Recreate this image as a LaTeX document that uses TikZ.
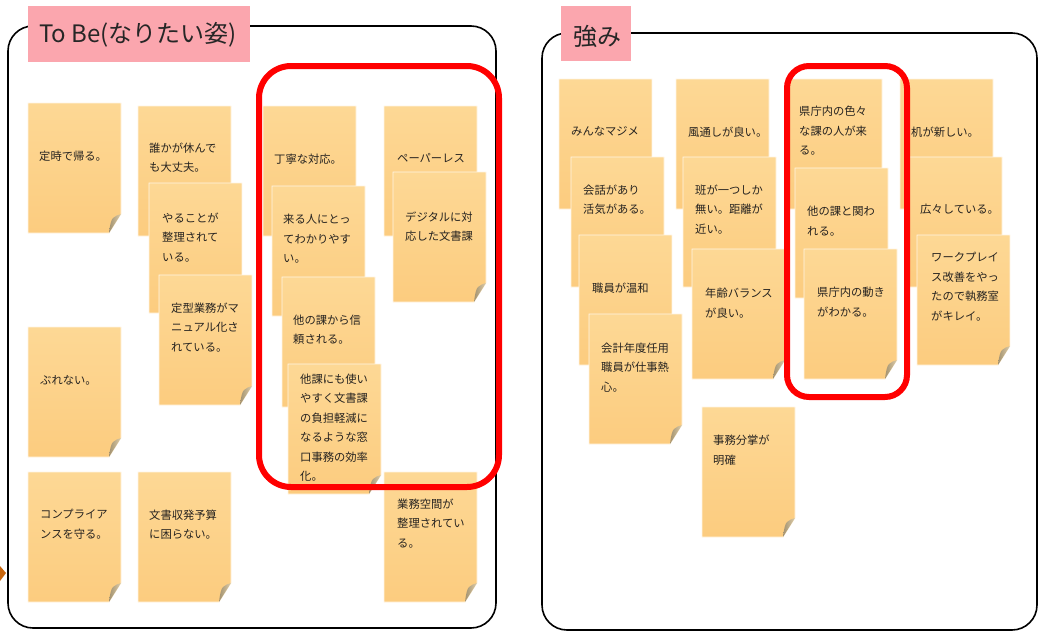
\documentclass[tikz,border=0pt]{standalone}
\usepackage{fontspec}
\newfontfamily\jp{Noto Sans CJK JP}
\definecolor{notetop}{HTML}{FDD895}
\definecolor{notebot}{HTML}{FCCC7F}
\definecolor{curldark}{HTML}{A39270}
\definecolor{curllight}{HTML}{DDCDAA}
\definecolor{titlepink}{HTML}{FBA6AE}
\definecolor{notetextc}{HTML}{262320}
\definecolor{arroworange}{HTML}{C8650C}
\tikzset{
  notebody/.style={top color=notetop, bottom color=notebot, draw=white!75!notetop, line width=0.7pt},
  notecurl/.style={left color=curldark, right color=curllight},
  notetext/.style={font=\jp\fontsize{11.3}{19.5}\selectfont, text=notetextc, align=left, inner sep=0pt, anchor=west},
  panel/.style={draw=black, line width=1.6pt, rounded corners=25pt},
  titlebox/.style={fill=titlepink},
  titletext/.style={font=\jp\fontsize{24}{28}\selectfont, text=black!85, inner sep=0pt, anchor=west},
  highlight/.style={draw=red, line width=6pt},
}
% name, x, y, text dx, text dy (centre), text
\newcommand\stickynote[6]{%
  \path[notebody] (#2,#3) -- (#2+93,#3) -- (#2+93,#3+111) -- (#2+81,#3+130) -- (#2,#3+130) -- cycle;
  \path[notecurl] (#2+93,#3+111) -- (#2+81,#3+130) .. controls (#2+82,#3+122) and (#2+83,#3+117) .. (#2+85,#3+115) .. controls (#2+87,#3+113) and (#2+90,#3+112) .. cycle;
  \node[notetext] (#1) at (#2+#4,#3+#5) {#6};
}
\begin{document}
\begin{tikzpicture}[x=1pt,y=-1pt]
\useasboundingbox (0,0) rectangle (1039,632);
% panels
\draw[panel] (8,26) rectangle (496,628);
\draw[panel] (542,33) rectangle (1037,630);
% titles
\fill[titlebox] (28,6) rectangle (250,62);
\node[titletext] (title1) at (39,35) {To Be(なりたい姿)};
\fill[titlebox] (561,6) rectangle (631,61);
\node[titletext] (title2) at (573,36) {強み};
% left arrow fragment
\fill[arroworange] (0,566) -- (6,573) -- (0,581) -- cycle;
% To Be notes
\stickynote{l1}{28}{103}{11}{53}{定時で帰る。}
\stickynote{l2}{138}{106}{11}{51.5}{誰かが休んで\\も大丈夫。}
\stickynote{l3}{149}{183}{13}{54.5}{やることが\\整理されて\\いる。}
\stickynote{l4}{159}{275}{12}{52.5}{定型業務がマ\\ニュアル化さ\\れている。}
\stickynote{l5}{263}{106}{11}{53}{丁寧な対応。}
\stickynote{l6}{272}{186}{11}{53}{来る人にとっ\\てわかりやす\\い。}
\stickynote{l7}{282}{277}{11}{52.5}{他の課から信\\頼される。}
\stickynote{l8}{288}{364}{12}{63.5}{他課にも使い\\やすく文書課\\の負担軽減に\\なるような窓\\口事務の効率\\化。}
\stickynote{l9}{384}{106}{13}{52}{ペーパーレス}
\stickynote{l10}{393}{172}{12}{54.5}{デジタルに対\\応した文書課}
\stickynote{l11}{28}{327}{12}{53}{ぶれない。}
\stickynote{l12}{28}{472}{12}{52.5}{コンプライア\\ンスを守る。}
\stickynote{l13}{138}{472}{11}{52.5}{文書収発予算\\に困らない。}
\stickynote{l14}{384}{472}{13}{51.5}{業務空間が\\整理されてい\\る。}
% strengths notes
\stickynote{r1}{559}{79}{12}{52}{みんなマジメ}
\stickynote{r2}{571}{157}{12}{42.5}{会話があり\\活気がある。}
\stickynote{r3}{579}{235}{13}{53}{職員が温和}
\stickynote{r4}{589}{314}{12}{53.5}{会計年度任用\\職員が仕事熱\\心。}
\stickynote{r5}{676}{79}{12}{53}{風通しが良い。}
\stickynote{r6}{683}{157}{12}{52.5}{班が一つしか\\無い。距離が\\近い。}
\stickynote{r7}{692}{249}{13}{54}{年齢バランス\\が良い。}
\stickynote{r8}{702}{407}{11}{43}{事務分掌が\\明確}
\stickynote{r9}{789}{79}{10}{52}{県庁内の色々\\な課の人が来\\る。}
\stickynote{r10}{795}{168}{12}{53}{他の課と関わ\\れる。}
\stickynote{r11}{804}{249}{13}{53}{県庁内の動き\\がわかる。}
\stickynote{r12}{900}{79}{11}{53}{机が新しい。}
\stickynote{r13}{909}{157}{11}{52}{広々している。}
\stickynote{r14}{917}{235}{14}{51.5}{ワークプレイ\\ス改善をやっ\\たので執務室\\がキレイ。}
% highlights
\draw[highlight, rounded corners=32pt] (259,66) rectangle (499,487);
\draw[highlight, rounded corners=22pt] (787,66) rectangle (907,397);
\end{tikzpicture}
\end{document}
